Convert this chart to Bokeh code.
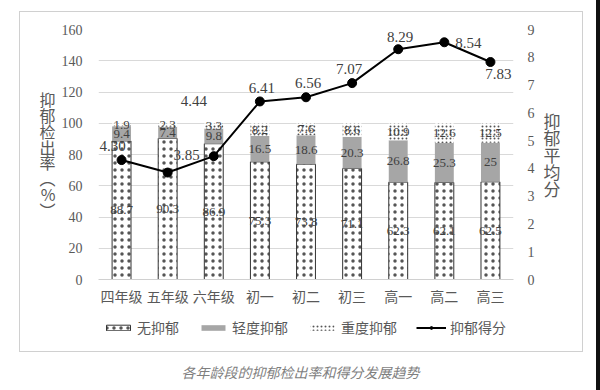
import numpy as np
from bokeh.plotting import figure
from bokeh.layouts import column
from bokeh.models import (ColumnDataSource, Range1d, LinearAxis, Legend, LegendItem,
                          Label, FixedTicker)
from bokeh.core.properties import value
from bokeh.embed import file_html
from bokeh.resources import INLINE

# ---------------- data ----------------
categories = ["四年级", "五年级", "六年级", "初一", "初二", "初三", "高一", "高二", "高三"]
none_dep = [88.7, 90.3, 86.9, 75.3, 73.8, 71.1, 62.3, 62.1, 62.5]
mild_dep = [9.4, 7.4, 9.8, 16.5, 18.6, 20.3, 26.8, 25.3, 25]
severe_dep = [1.9, 2.3, 3.3, 8.2, 7.6, 8.6, 10.9, 12.6, 12.5]
scores = [4.30, 3.85, 4.44, 6.41, 6.56, 7.07, 8.29, 8.54, 7.83]
rate_ticks = [0, 20, 40, 60, 80, 100, 120, 140, 160]
score_ticks = [0, 1, 2, 3, 4, 5, 6, 7, 8, 9]
series_names = ["无抑郁", "轻度抑郁", "重度抑郁", "抑郁得分"]
left_title = "抑郁检出率︵%︶"
right_title = "抑郁平均分"
caption = "各年龄段的抑郁检出率和得分发展趋势"

# ---------------- styles ----------------
SERIF = "Liberation Serif"
CJK = "Noto Sans CJK SC"
GREY = "#595959"
score_dx = [-9, 19, -20, 2, 2, -3, 2, 24, 8]
score_dy = [-14, -18, -55, -13, -14, -14, -12, 1, 12]

NONE_STYLE = dict(fill_color="white", line_color="#333333", line_width=1,
                  hatch_pattern="dot", hatch_scale=7, hatch_weight=0.1, hatch_color="#555555")
MILD_STYLE = dict(fill_color="#a6a6a6", line_color=None)
SEV_STYLE = dict(fill_color="white", line_color=None,
                 hatch_pattern="dot", hatch_scale=4, hatch_weight=0.6, hatch_color="#555555")
LINE_STYLE = dict(line_color="black", line_width=2)
PT_STYLE = dict(size=9, fill_color="black", line_color="black")

BOX_L, BOX_T, BOX_W = 20, 12, 562
FL, FR, FT, FB = 98, 513, 29, 279   # frame edges in page pixels

p = figure(frame_width=FR - FL, frame_height=FB - FT,
           x_range=categories, y_range=Range1d(0, 160),
           output_backend="svg", toolbar_location=None,
           min_border_left=FL - BOX_L, min_border_right=BOX_L + BOX_W - FR,
           min_border_top=FT - BOX_T, min_border_bottom=26)
p.extra_y_ranges = {"score": Range1d(0, 9)}
p.outline_line_color = None
p.background_fill_color = "white"
p.border_fill_color = "white"


def style_axis(ax):
    ax.axis_line_color = None
    ax.major_tick_line_color = None
    ax.minor_tick_line_color = None
    ax.major_label_text_font = SERIF
    ax.major_label_text_font_size = "14px"
    ax.major_label_text_color = GREY
    ax.axis_label_text_font = CJK
    ax.axis_label_text_font_style = "normal"
    ax.axis_label_text_color = GREY


def stacked(t):
    return "\n".join(list(t))


p.yaxis.ticker = FixedTicker(ticks=rate_ticks)
la = p.yaxis[0]
style_axis(la)
la.major_label_standoff = 10
la.axis_label = stacked(left_title)
la.axis_label_standoff = 3
la.axis_label_text_font_size = "16px"
la.axis_label_text_line_height = 0.66

ra = LinearAxis(y_range_name="score", ticker=FixedTicker(ticks=score_ticks))
style_axis(ra)
ra.major_label_standoff = 8
ra.axis_label = stacked(right_title)
ra.axis_label_standoff = 6
ra.axis_label_text_font_size = "17px"
ra.axis_label_text_line_height = 0.68
for ax in (la, ra):
    try:
        ax.axis_label_orientation = "horizontal"
    except Exception:
        pass
p.add_layout(ra, "right")

xa = p.xaxis[0]
xa.axis_line_color = "#d0d0d0"
xa.major_tick_line_color = None
xa.minor_tick_line_color = None
xa.major_label_text_font = CJK
xa.major_label_text_font_size = "14px"
xa.major_label_text_color = GREY
xa.major_label_standoff = 0

p.xgrid.grid_line_color = None
p.ygrid.grid_line_color = "#d9d9d9"
p.ygrid.ticker = FixedTicker(ticks=rate_ticks)

# bars
n = np.array(none_dep)
m = np.array(mild_dep)
s = np.array(severe_dep)
src = ColumnDataSource(dict(cat=categories, nb=np.zeros_like(n), mb=n, mt=n + m, st=n + m + s,
                            nmid=n / 2, mmid=n + m / 2, smid=n + m + s / 2,
                            nlab=[f"{v:g}" for v in n], mlab=[f"{v:g}" for v in m],
                            slab=[f"{v:g}" for v in s]))
BW = 0.41
p.vbar(x="cat", bottom="nb", top="mb", width=BW, source=src, **NONE_STYLE)
p.vbar(x="cat", bottom="mb", top="mt", width=BW, source=src, **MILD_STYLE)
p.vbar(x="cat", bottom="mt", top="st", width=BW, source=src, **SEV_STYLE)

for ycol, tcol in [("nmid", "nlab"), ("mmid", "mlab"), ("smid", "slab")]:
    p.text(x="cat", y=ycol, text=tcol, source=src, text_align="center",
           text_baseline="middle", text_font=value(SERIF), text_font_size="13px",
           text_color="#404040")

# score line
ssrc = ColumnDataSource(dict(cat=categories, sc=scores,
                             lab=[f"{v:.2f}" for v in scores],
                             dx=score_dx, dy=score_dy))
p.line(x="cat", y="sc", source=ssrc, y_range_name="score", **LINE_STYLE)
p.scatter(x="cat", y="sc", source=ssrc, y_range_name="score", **PT_STYLE)
p.text(x="cat", y="sc", text="lab", source=ssrc, y_range_name="score",
       x_offset="dx", y_offset="dy", text_align="center", text_baseline="middle",
       text_font=value(SERIF), text_font_size="15px", text_color="#404040")

# ---------------- legend strip (inside the box, below the axis) ----------------
LEG_H = 43
pl = figure(width=BOX_W, height=LEG_H, x_range=Range1d(1, 2), y_range=Range1d(1, 2),
            x_axis_type=None, y_axis_type=None, output_backend="svg",
            toolbar_location=None, min_border=0)
pl.outline_line_color = None
pl.grid.visible = False
k_none = pl.vbar(x=[0], top=[0], bottom=[0], width=0.1, **NONE_STYLE)
k_mild = pl.vbar(x=[0], top=[0], bottom=[0], width=0.1, **MILD_STYLE)
k_sev = pl.vbar(x=[0], top=[0], bottom=[0], width=0.1, **SEV_STYLE)
k_line = pl.line(x=[0, 0], y=[0, 0], **LINE_STYLE)
k_pt = pl.scatter(x=[0], y=[0], **PT_STYLE)
legend = Legend(items=[LegendItem(label=series_names[0], renderers=[k_none]),
                       LegendItem(label=series_names[1], renderers=[k_mild]),
                       LegendItem(label=series_names[2], renderers=[k_sev]),
                       LegendItem(label=series_names[3], renderers=[k_line, k_pt])],
                orientation="horizontal", location=(103 - FL, 14),
                border_line_alpha=0, background_fill_alpha=0,
                glyph_width=30, glyph_height=7, label_standoff=4, spacing=19,
                padding=0, margin=0,
                label_text_font=CJK, label_text_font_size="14px",
                label_text_color=GREY)
pl.add_layout(legend, "center")

box = column(p, pl, styles={"border": "1px solid #d0d0d0"},
             margin=(BOX_T - 1, 0, 0, BOX_L - 1))

# ---------------- caption ----------------
pc = figure(width=596, height=40, x_range=Range1d(0, 1), y_range=Range1d(0, 1),
            x_axis_type=None, y_axis_type=None, output_backend="svg",
            toolbar_location=None, min_border=0)
pc.outline_line_color = None
pc.grid.visible = False
pc.add_layout(Label(x=300, y=21, x_units="screen", y_units="screen", text=caption,
                    text_align="center", text_baseline="middle", text_font=CJK,
                    text_font_size="14px", text_font_style="italic", text_color="#7f7f7f"))

root = column(box, pc, styles={"border-right": "4px solid #111111"})
open("out.html", "w").write(file_html(root, INLINE))
